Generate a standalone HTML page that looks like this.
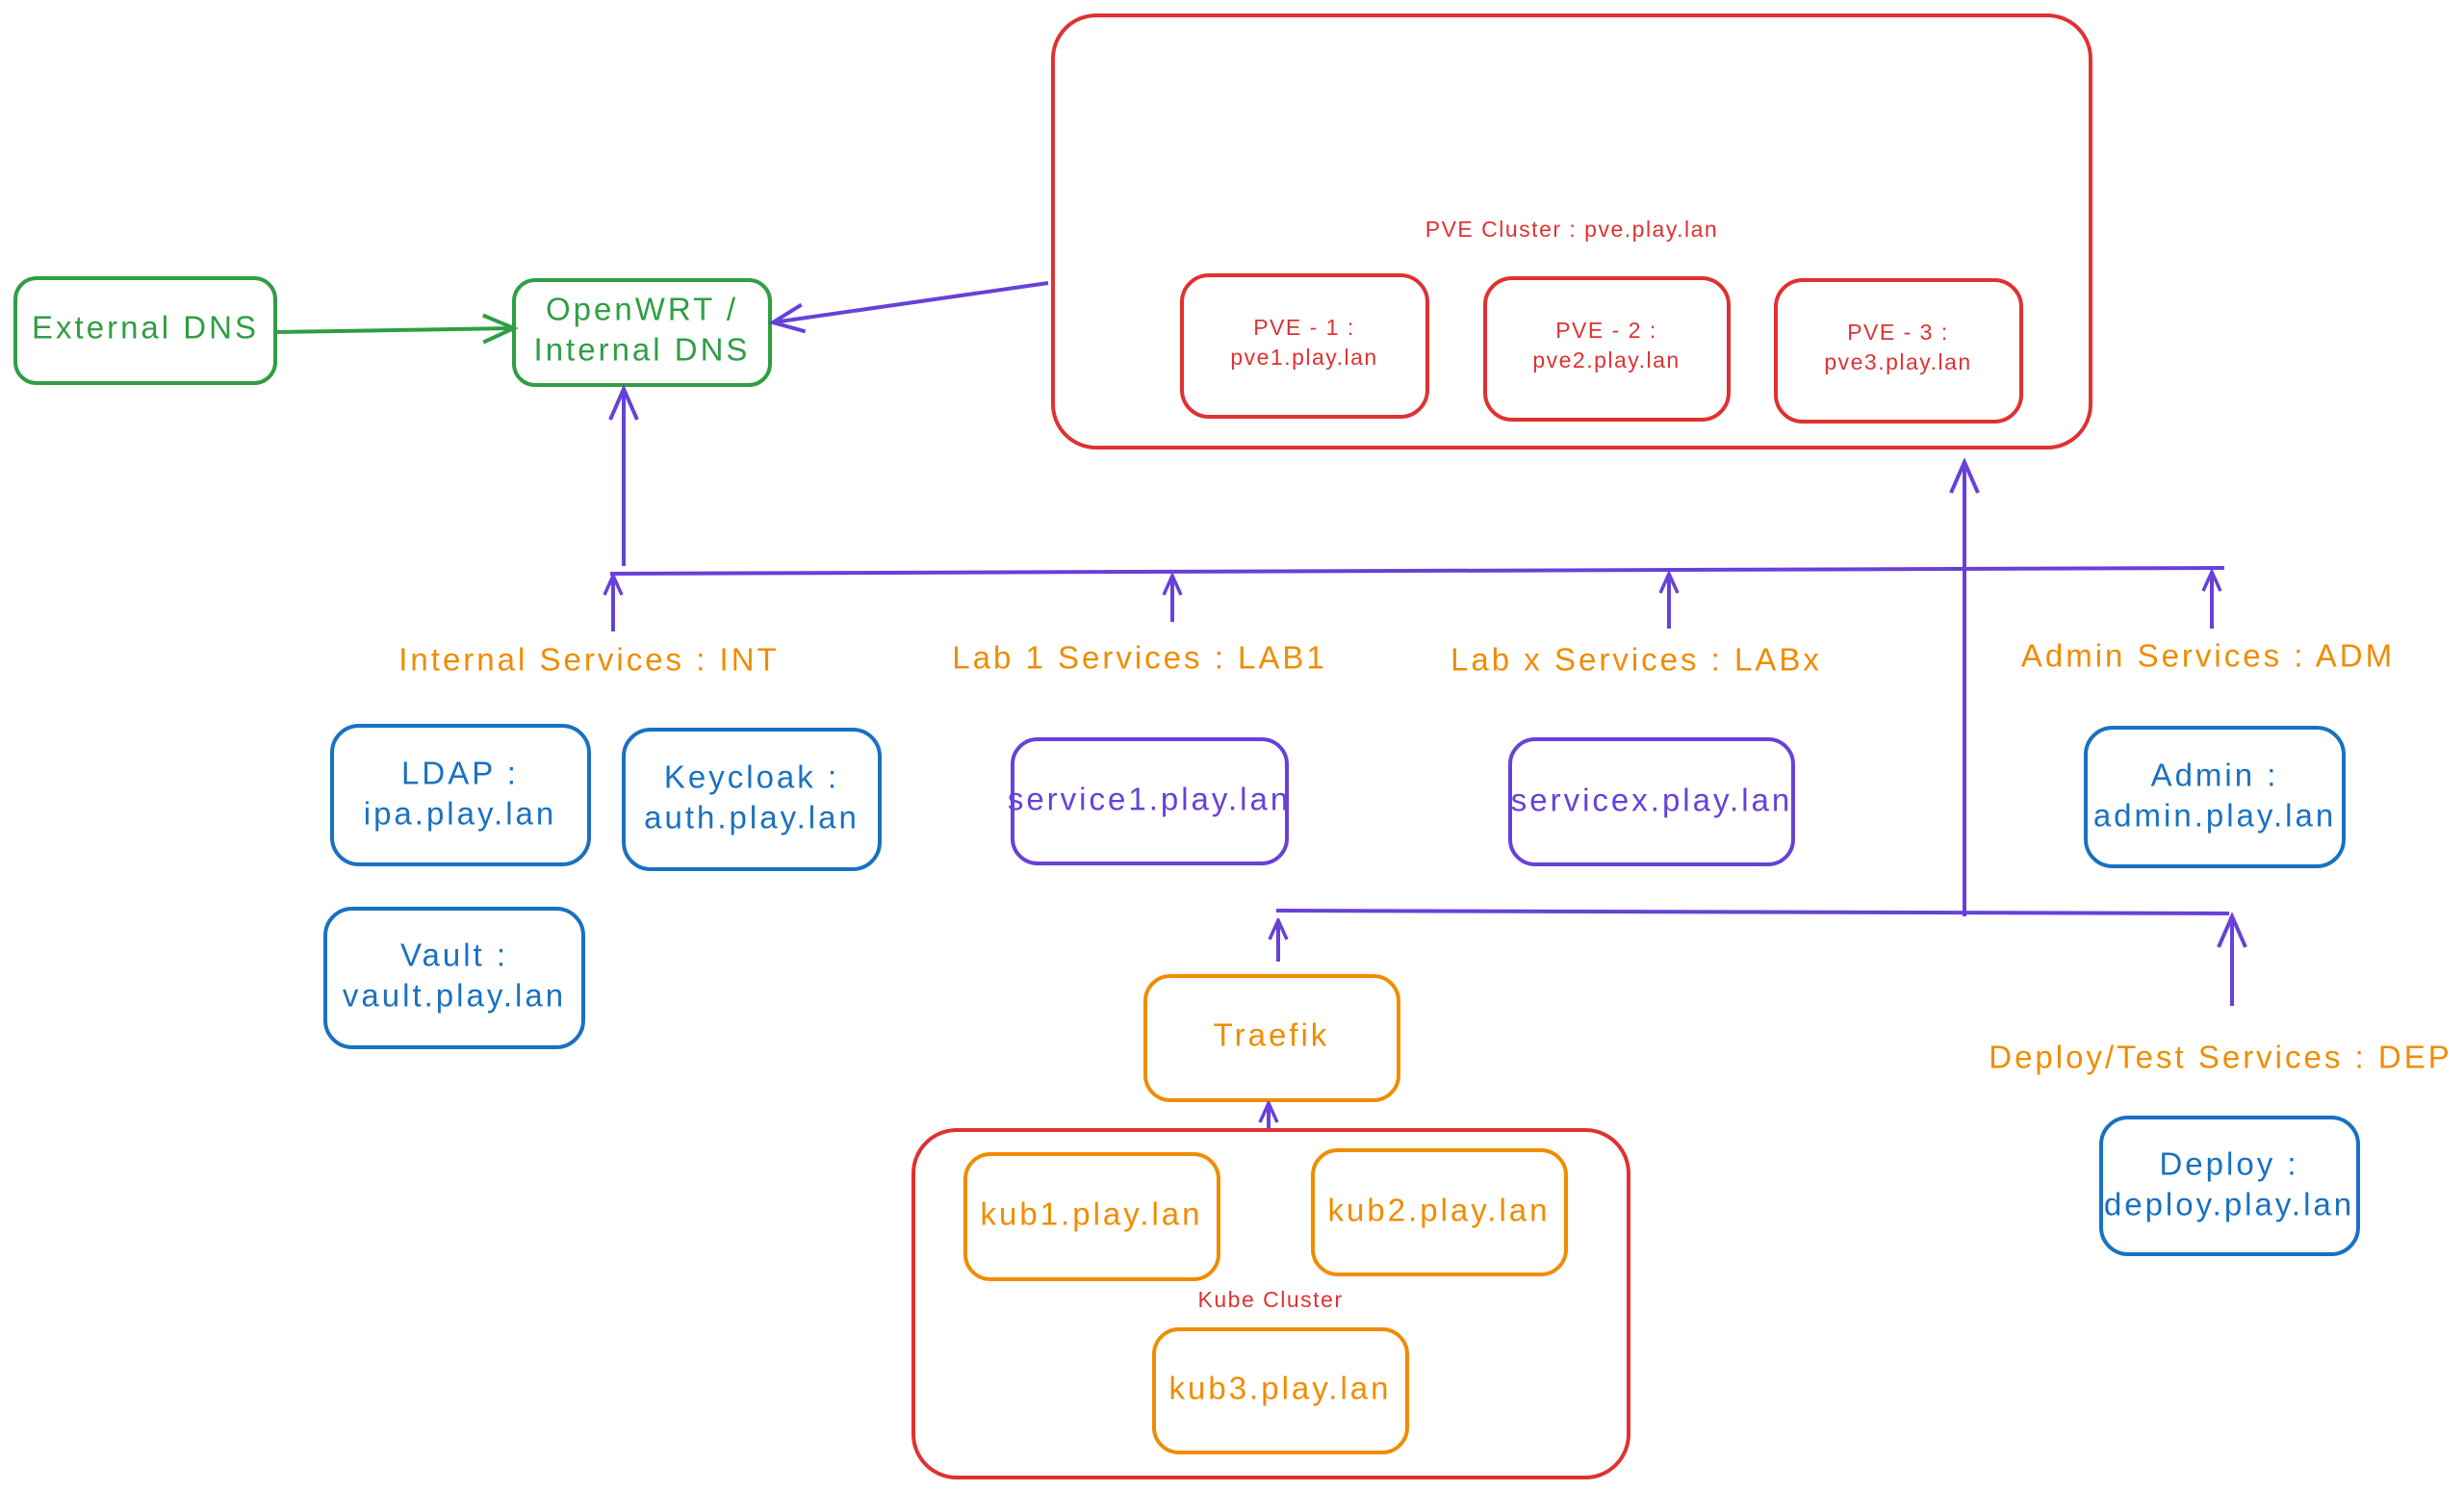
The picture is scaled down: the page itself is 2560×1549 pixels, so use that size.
<!DOCTYPE html>
<html><head><meta charset="utf-8"><style>
html,body{margin:0;padding:0;background:#fff;}
svg{display:block;}
text{font-family:"Liberation Sans",sans-serif;text-anchor:middle;dominant-baseline:middle;}
</style></head><body>
<svg width="2560" height="1549" viewBox="0 0 2560 1549" xmlns="http://www.w3.org/2000/svg">
<defs>
<marker id="apb" markerWidth="40" markerHeight="40" refX="36" refY="20" orient="auto" markerUnits="userSpaceOnUse" viewBox="0 0 40 40"><path d="M4,6 L36,20 L4,34" fill="none" stroke="#6741d9" stroke-width="4"/></marker>
<marker id="apg" markerWidth="40" markerHeight="40" refX="36" refY="20" orient="auto" markerUnits="userSpaceOnUse" viewBox="0 0 40 40"><path d="M4,6 L36,20 L4,34" fill="none" stroke="#2f9e44" stroke-width="4"/></marker>
<marker id="aps" markerWidth="24" markerHeight="24" refX="22" refY="12" orient="auto" markerUnits="userSpaceOnUse" viewBox="0 0 24 24"><path d="M2,3 L22,12 L2,21" fill="none" stroke="#6741d9" stroke-width="3.5"/></marker>
</defs>
<g fill="none" stroke-width="4">
<rect x="16" y="289" width="270" height="109" rx="22" stroke="#2f9e44"/>
<rect x="534" y="291" width="266" height="109" rx="22" stroke="#2f9e44"/>
<rect x="1094" y="16" width="1078" height="449" rx="45" stroke="#e03131"/>
<rect x="1228" y="286" width="255" height="147" rx="28" stroke="#e03131"/>
<rect x="1543" y="289" width="253" height="147" rx="28" stroke="#e03131"/>
<rect x="1845" y="291" width="255" height="147" rx="28" stroke="#e03131"/>
<rect x="345" y="754" width="267" height="144" rx="28" stroke="#1971c2"/>
<rect x="648" y="758" width="266" height="145" rx="28" stroke="#1971c2"/>
<rect x="338" y="944" width="268" height="144" rx="28" stroke="#1971c2"/>
<rect x="2167" y="756" width="268" height="144" rx="28" stroke="#1971c2"/>
<rect x="2183" y="1161" width="267" height="142" rx="28" stroke="#1971c2"/>
<rect x="1052" y="768" width="285" height="129" rx="26" stroke="#6741d9"/>
<rect x="1569" y="768" width="294" height="130" rx="26" stroke="#6741d9"/>
<rect x="1190" y="1014" width="263" height="129" rx="26" stroke="#f08c00"/>
<rect x="949" y="1174" width="743" height="361" rx="45" stroke="#e03131"/>
<rect x="1003" y="1199" width="263" height="130" rx="26" stroke="#f08c00"/>
<rect x="1364" y="1195" width="263" height="129" rx="26" stroke="#f08c00"/>
<rect x="1199" y="1381" width="263" height="128" rx="26" stroke="#f08c00"/>
<line x1="287" y1="345" x2="534" y2="341" stroke="#2f9e44" marker-end="url(#apg)"/>
<line x1="1089" y1="294" x2="803" y2="335" stroke="#6741d9" marker-end="url(#apb)"/>
<line x1="648" y1="588" x2="648" y2="404" stroke="#6741d9" marker-end="url(#apb)"/>
<line x1="634" y1="596" x2="2311" y2="590" stroke="#6741d9"/>
<line x1="637" y1="656" x2="637" y2="598" stroke="#6741d9" marker-end="url(#aps)"/>
<line x1="1218" y1="646" x2="1218" y2="598" stroke="#6741d9" marker-end="url(#aps)"/>
<line x1="1734" y1="653" x2="1734" y2="596" stroke="#6741d9" marker-end="url(#aps)"/>
<line x1="2298" y1="653" x2="2298" y2="594" stroke="#6741d9" marker-end="url(#aps)"/>
<line x1="2041" y1="952" x2="2041" y2="480" stroke="#6741d9" marker-end="url(#apb)"/>
<line x1="1326" y1="946" x2="2316" y2="949" stroke="#6741d9"/>
<line x1="1328" y1="999" x2="1328" y2="956" stroke="#6741d9" marker-end="url(#aps)"/>
<line x1="2319" y1="1045" x2="2319" y2="952" stroke="#6741d9" marker-end="url(#apb)"/>
<line x1="1318" y1="1172" x2="1318" y2="1146" stroke="#6741d9" marker-end="url(#aps)"/>
</g>
<g font-size="33" letter-spacing="3">
<text x="151" y="343" fill="#2f9e44">External DNS</text>
<text x="667" y="324" fill="#2f9e44">OpenWRT /</text>
<text x="667" y="366" fill="#2f9e44">Internal DNS</text>
<text x="478" y="806" fill="#1971c2">LDAP :</text>
<text x="478" y="848" fill="#1971c2">ipa.play.lan</text>
<text x="781" y="810" fill="#1971c2">Keycloak :</text>
<text x="781" y="852" fill="#1971c2">auth.play.lan</text>
<text x="472" y="995" fill="#1971c2">Vault :</text>
<text x="472" y="1037" fill="#1971c2">vault.play.lan</text>
<text x="2301" y="808" fill="#1971c2">Admin :</text>
<text x="2301" y="850" fill="#1971c2">admin.play.lan</text>
<text x="2316" y="1212" fill="#1971c2">Deploy :</text>
<text x="2316" y="1254" fill="#1971c2">deploy.play.lan</text>
<text x="1194" y="833" fill="#6741d9">service1.play.lan</text>
<text x="1716" y="834" fill="#6741d9">servicex.play.lan</text>
<text x="1321" y="1078" fill="#f08c00">Traefik</text>
<text x="1134" y="1264" fill="#f08c00">kub1.play.lan</text>
<text x="1495" y="1260" fill="#f08c00">kub2.play.lan</text>
<text x="1330" y="1445" fill="#f08c00">kub3.play.lan</text>
<text x="612" y="688" fill="#f08c00">Internal Services : INT</text>
<text x="1184" y="686" fill="#f08c00">Lab 1 Services : LAB1</text>
<text x="1700" y="688" fill="#f08c00">Lab x Services : LABx</text>
<text x="2294" y="684" fill="#f08c00">Admin Services : ADM</text>
<text x="2307" y="1101" fill="#f08c00">Deploy/Test Services : DEP</text>
</g>
<g font-size="23" fill="#e03131" letter-spacing="1.5">
<text x="1633" y="240">PVE Cluster : pve.play.lan</text>
<text x="1355" y="342">PVE - 1 :</text>
<text x="1355" y="373">pve1.play.lan</text>
<text x="1669" y="345">PVE - 2 :</text>
<text x="1669" y="376">pve2.play.lan</text>
<text x="1972" y="347">PVE - 3 :</text>
<text x="1972" y="378">pve3.play.lan</text>
<text x="1320" y="1352">Kube Cluster</text>
</g>
</svg>
</body></html>
